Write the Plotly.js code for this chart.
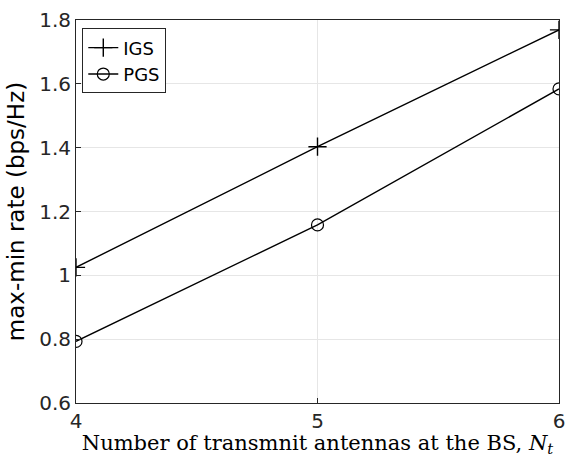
<!DOCTYPE html>
<html><head><meta charset="utf-8">
<script src="https://cdn.plot.ly/plotly-3.0.1.min.js"></script>
<style>body{margin:0;}#c{width:569px;height:457px;}</style>
</head><body><div id="c"></div>
<script>
const antennas = [4, 5, 6];
const igs = [1.025, 1.403, 1.769];
const pgs = [0.793, 1.158, 1.584];
const yTicks = [0.6, 0.8, 1.0, 1.2, 1.4, 1.6, 1.8];

const traces = [
  {x: antennas, y: igs, name: 'IGS', mode: 'lines+markers', type: 'scatter',
   line: {color: '#000', width: 1.4},
   marker: {symbol: 'cross-thin', size: 13, color: '#000', line: {color: '#000', width: 1.4}}},
  {x: antennas, y: pgs, name: 'PGS', mode: 'lines+markers', type: 'scatter',
   line: {color: '#000', width: 1.4},
   marker: {symbol: 'circle-open', size: 12, color: '#000', line: {color: '#000', width: 1.2}}}
];

const sans = 'DejaVu Sans, Liberation Sans, Arial, sans-serif';
const axisCommon = {
  showline: true, mirror: true, linecolor: '#262626', linewidth: 1,
  ticks: 'inside', ticklen: 5, tickcolor: '#262626',
  showgrid: true, gridcolor: '#e6e6e6', gridwidth: 1, zeroline: false,
  tickfont: {family: sans, size: 20, color: '#262626'}
};

const layout = {
  width: 569, height: 457,
  margin: {l: 76, r: 10, t: 20, b: 54},
  paper_bgcolor: '#fff', plot_bgcolor: '#fff',
  showlegend: true,
  legend: {x: 0.013, y: 0.978, xanchor: 'left', yanchor: 'top',
    bgcolor: '#fff', bordercolor: '#262626', borderwidth: 1,
    font: {family: sans, size: 18, color: '#000'},
    tracegroupgap: 0, itemwidth: 30},
  xaxis: Object.assign({}, axisCommon, {
    range: [4, 6], tickvals: antennas, ticktext: antennas.map(String),
    title: {text: 'Number of transmnit antennas at the BS, <i>N</i><sub><i>t</i></sub>',
      font: {family: 'DejaVu Serif, Liberation Serif, serif', size: 21, color: '#000'}, standoff: 2}
  }),
  yaxis: Object.assign({}, axisCommon, {
    range: [0.6, 1.8], tickvals: yTicks, ticktext: yTicks.map(v => String(+v.toFixed(1))),
    title: {text: 'max-min rate (bps/Hz)',
      font: {family: sans, size: 23, color: '#000'}, standoff: 8}
  })
};

Plotly.newPlot('c', traces, layout, {displayModeBar: false, staticPlot: true});
</script>
</body></html>
